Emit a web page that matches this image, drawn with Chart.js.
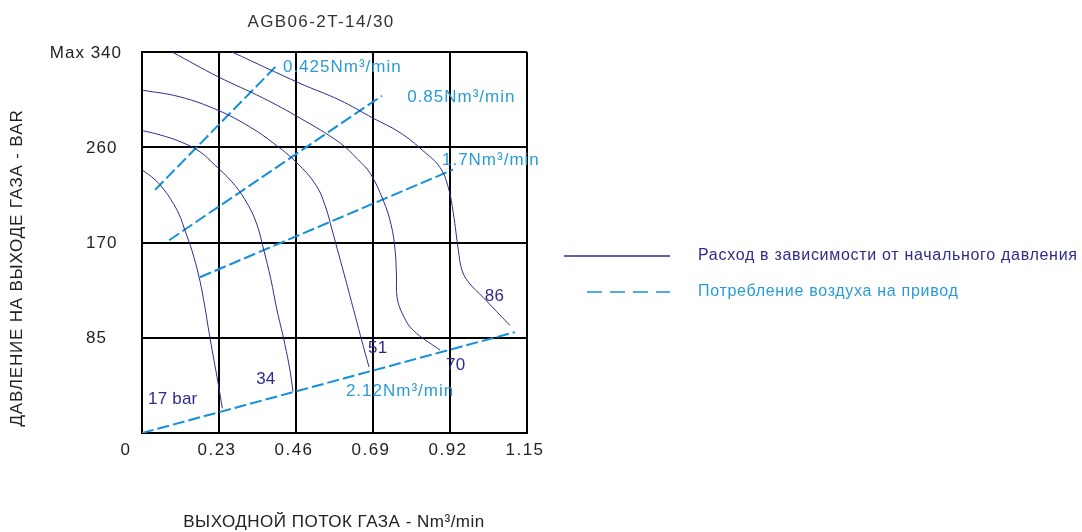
<!doctype html>
<html lang="ru">
<head>
    <meta charset="utf-8">
    <title>AGB06-2T-14/30</title>
    <script src="https://cdn.jsdelivr.net/npm/chart.js@4.4.1/dist/chart.umd.min.js"></script>
    <style>
        html, body { margin: 0; padding: 0; background: #fff; }
        #wrap { width: 1082px; height: 532px; position: relative; }
    </style>
</head>
<body>
<div id="wrap"><canvas id="myChart"></canvas></div>
<script>
    // axes
    var flowTicks = [0, 0.23, 0.46, 0.69, 0.92, 1.15];
    var flowTickLabels = ['0', '0.23', '0.46', '0.69', '0.92', '1.15'];
    var pressureTicks = [0, 85, 170, 255, 340];
    var pressureTickLabels = ['', '85', '170', '260', 'Max 340'];

    // flow curves, one per inlet pressure (flow Nm3/min, outlet bar)
    var inletLabels = ['17 bar', '34', '51', '70', '86'];
    var flow17 = [0, 0.039, 0.066, 0.087, 0.111, 0.128, 0.149, 0.169, 0.184, 0.203, 0.227, 0.240];
    var bar17  = [235, 226, 217, 208, 195, 181, 163, 141, 119, 85, 45, 22];
    var flow34 = [0, 0.054, 0.114, 0.173, 0.218, 0.269, 0.308, 0.341, 0.364, 0.385, 0.403, 0.424, 0.442, 0.451];
    var bar34  = [270, 266, 260, 251, 239, 224, 208, 188, 163, 137, 110, 83, 56, 37];
    var flow51 = [0, 0.113, 0.227, 0.323, 0.391, 0.463, 0.520, 0.547, 0.568, 0.588, 0.608, 0.632, 0.656, 0.678];
    var bar51  = [306, 300, 288, 273, 259, 241, 221, 203, 181, 159, 137, 110, 83, 59];
    var flow70 = [0.090, 0.227, 0.361, 0.472, 0.591, 0.645, 0.681, 0.720, 0.744, 0.756, 0.760, 0.762, 0.777, 0.809, 0.890];
    var bar70  = [340, 318, 299, 281, 259, 244, 232, 208, 186, 163, 141, 121, 107, 92, 74];
    var flow86 = [0.269, 0.472, 0.591, 0.690, 0.771, 0.839, 0.890, 0.915, 0.930, 0.945, 0.956, 0.977, 1.019, 1.099];
    var bar86  = [340, 312, 297, 281, 268, 252, 237, 219, 196, 163, 145, 134, 121, 96];

    // air consumption of the drive (dashed)
    var airLabels = ['0.425Nm³/min', '0.85Nm³/min', '1.7Nm³/min', '2.12Nm³/min'];
    var air0425Flow = [0.039, 0.406];
    var air0425Bar  = [217, 329];
    var air085Flow  = [0.081, 0.717];
    var air085Bar   = [172, 301];
    var air17Flow   = [0.173, 0.929];
    var air17Bar    = [139, 235];
    var air212Flow  = [0, 1.114];
    var air212Bar   = [0, 90];

    // where the text labels sit (data coords)
    var inletLabelPos = [[0.018, 30], [0.341, 48], [0.675, 76], [0.908, 60], [1.024, 122]];
    var airLabelPos = [[0.421, 326], [0.792, 300], [0.896, 243], [0.609, 37]];

    var navy = '#2e2c8c';
    var blue = '#1391d8';
    var blueText = '#2a9bd9';
    var FONT = '"Liberation Sans", Arial, sans-serif';

    function pts(xs, ys) {
        return xs.map(function (x, i) { return {x: x, y: ys[i]}; });
    }

    var curves = [[flow17, bar17], [flow34, bar34], [flow51, bar51], [flow70, bar70], [flow86, bar86]];
    var airLines = [[air0425Flow, air0425Bar], [air085Flow, air085Bar], [air17Flow, air17Bar], [air212Flow, air212Bar]];

    var datasets = [];
    curves.forEach(function (c, i) {
        datasets.push({
            label: inletLabels[i],
            data: pts(c[0], c[1]),
            borderColor: navy,
            borderWidth: 1,
            pointRadius: 0,
            tension: 0.4,
            fill: false
        });
    });
    airLines.forEach(function (c, i) {
        datasets.push({
            label: airLabels[i],
            data: pts(c[0], c[1]),
            borderColor: blue,
            borderWidth: 2,
            borderDash: [12, 4],
            pointRadius: 0,
            fill: false
        });
    });

    function txt(ctx, s, x, y, font, color, align, spacing) {
        ctx.save();
        ctx.font = font;
        ctx.fillStyle = color;
        ctx.textAlign = align || 'left';
        ctx.textBaseline = 'middle';
        ctx.letterSpacing = spacing || '0px';
        ctx.fillText(s, x, y);
        ctx.restore();
    }

    var textPlugin = {
        id: 'texts',
        afterDraw: function (chart) {
            var ctx = chart.ctx;
            var xs = chart.scales.x, ys = chart.scales.y;
            var f17 = '17px ' + FONT;

            txt(ctx, 'AGB06-2T-14/30', 321, 22, f17, '#333', 'center', '1.4px');

            // y ticks
            pressureTicks.forEach(function (v, i) {
                var s = pressureTickLabels[i];
                if (!s) return;
                var y = ys.getPixelForValue(v) + 1;
                if (s.indexOf('Max') === 0) {
                    txt(ctx, s, 122, y, f17, '#222', 'right', '1px');
                } else {
                    txt(ctx, s, 86, y, f17, '#222', 'left', '1px');
                }
            });
            // x ticks
            flowTicks.forEach(function (v, i) {
                var x = v === 0 ? 126 : xs.getPixelForValue(v) - 2;
                txt(ctx, flowTickLabels[i], x, 450, f17, '#222', 'center', '1.5px');
            });

            // axis titles
            txt(ctx, 'ВЫХОДНОЙ ПОТОК ГАЗА - Nm³/min', 334, 522, f17, '#222', 'center', '0.5px');
            ctx.save();
            ctx.translate(17, 268);
            ctx.rotate(-Math.PI / 2);
            txt(ctx, 'ДАВЛЕНИЕ НА ВЫХОДЕ ГАЗА - BAR', 0, 0, f17, '#222', 'center', '0.8px');
            ctx.restore();

            // labels inside the plot
            inletLabels.forEach(function (s, i) {
                var p = inletLabelPos[i];
                txt(ctx, s, xs.getPixelForValue(p[0]), ys.getPixelForValue(p[1]), f17, navy, 'left', '0.2px');
            });
            airLabels.forEach(function (s, i) {
                var p = airLabelPos[i];
                txt(ctx, s, xs.getPixelForValue(p[0]), ys.getPixelForValue(p[1]), f17, blueText, 'left', '1px');
            });

            // legend
            ctx.save();
            ctx.strokeStyle = navy;
            ctx.lineWidth = 1.5;
            ctx.beginPath(); ctx.moveTo(564, 256); ctx.lineTo(670, 256); ctx.stroke();
            ctx.strokeStyle = blue;
            ctx.setLineDash([15, 8]);
            ctx.beginPath(); ctx.moveTo(587, 292); ctx.lineTo(670, 292); ctx.stroke();
            ctx.restore();
            txt(ctx, 'Расход в зависимости от начального давления', 698, 256, '16px ' + FONT, navy, 'left', '0.7px');
            txt(ctx, 'Потребление воздуха на привод', 698, 292, '16px ' + FONT, blueText, 'left', '0.7px');
        }
    };

    var ctx = document.getElementById('myChart').getContext('2d');
    var myChart = new Chart(ctx, {
        type: 'line',
        data: { datasets: datasets },
        options: {
            responsive: true,
            maintainAspectRatio: false,
            animation: false,
            layout: { padding: { left: 142, right: 555, top: 52, bottom: 99 } },
            plugins: { legend: { display: false }, tooltip: { enabled: false } },
            scales: {
                x: {
                    type: 'linear', min: 0, max: 1.15,
                    afterBuildTicks: function (axis) { axis.ticks = flowTicks.map(function (v) { return {value: v}; }); },
                    ticks: { display: false },
                    grid: { color: '#000', lineWidth: 2, drawTicks: false },
                    border: { color: '#000', width: 2 }
                },
                y: {
                    type: 'linear', min: 0, max: 340,
                    afterBuildTicks: function (axis) { axis.ticks = pressureTicks.map(function (v) { return {value: v}; }); },
                    ticks: { display: false },
                    grid: { color: '#000', lineWidth: 2, drawTicks: false },
                    border: { color: '#000', width: 2 }
                }
            }
        },
        plugins: [textPlugin]
    });
</script>
</body>
</html>
